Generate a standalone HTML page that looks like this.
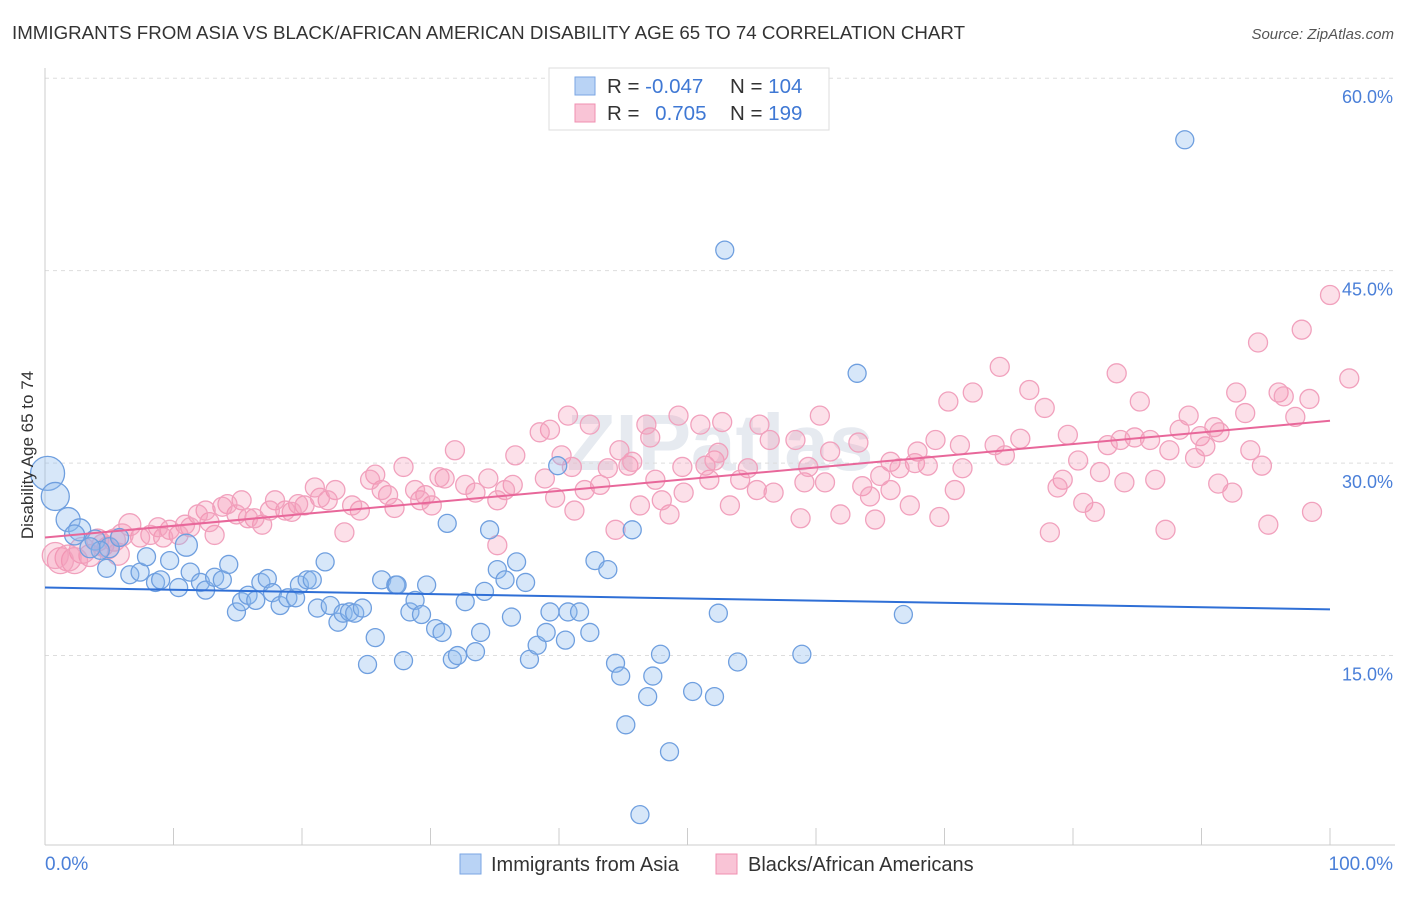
<!DOCTYPE html>
<html><head><meta charset="utf-8">
<style>
body{margin:0;background:#fff;font-family:"Liberation Sans",sans-serif;}
svg text{font-family:"Liberation Sans",sans-serif;}
</style></head>
<body>
<svg id="chart" width="1406" height="892" viewBox="0 0 1406 892" xmlns="http://www.w3.org/2000/svg">
<text x="12" y="39" font-size="18" fill="#333" textLength="953" lengthAdjust="spacingAndGlyphs">IMMIGRANTS FROM ASIA VS BLACK/AFRICAN AMERICAN DISABILITY AGE 65 TO 74 CORRELATION CHART</text>
<text x="1394" y="39" font-size="15" fill="#555" font-style="italic" text-anchor="end">Source: ZipAtlas.com</text>
<text x="720" y="470" font-size="80" fill="#e6eaf0" text-anchor="middle" font-weight="bold">ZIPatlas</text>
<g id="grid"></g>
<g id="axes"></g>
<g id="pink"></g>
<g id="blue"></g>
<g id="trends"></g>
<text x="33" y="455" font-size="17" fill="#333" text-anchor="middle" transform="rotate(-90 33 455)">Disability Age 65 to 74</text>
<g>
<rect x="549" y="68" width="280" height="62" fill="#fff" stroke="#ddd"/>
<rect x="575" y="77" width="20" height="18" fill="#b9d3f5" stroke="#7aa6e3"/>
<rect x="575" y="104" width="20" height="18" fill="#f9c4d6" stroke="#f08fb0"/>
<text x="607" y="93" font-size="20.5" fill="#333">R = <tspan fill="#3f78d4">-0.047</tspan></text>
<text x="730" y="93" font-size="20.5" fill="#333">N = <tspan fill="#3f78d4">104</tspan></text>
<text x="607" y="120" font-size="20.5" fill="#333">R = <tspan fill="#3f78d4" dx="10">0.705</tspan></text>
<text x="730" y="120" font-size="20.5" fill="#333">N = <tspan fill="#3f78d4">199</tspan></text>
</g>
<g>
<rect x="460" y="854" width="21" height="20" fill="#b9d3f5" stroke="#7aa6e3"/>
<text x="491" y="871" font-size="20" fill="#333">Immigrants from Asia</text>
<rect x="716" y="854" width="21" height="20" fill="#f9c4d6" stroke="#f08fb0"/>
<text x="748" y="871" font-size="20" fill="#333">Blacks/African Americans</text>
</g>
</svg>
<script>
const yTicks=[15,30,45,60];
const yTickLabels=["15.0%","30.0%","45.0%","60.0%"];
const xTickVals=[0,10,20,30,40,50,60,70,80,90,100];
const xEndLabels=["0.0%","100.0%"];
const blueX=[88.7,52.9,63.2,0.2,0.8,1.8,2.7,3.9,5.0,4.3,5.8,11.0,4.8,6.6,7.4,7.9,8.6,9.0,9.7,10.4,11.3,12.1,12.5,13.2,13.8,14.3,14.9,15.3,15.8,16.4,16.8,17.3,17.7,18.3,18.9,19.5,19.8,20.4,20.8,21.8,21.2,22.2,22.8,23.2,23.7,24.1,24.7,25.1,25.7,26.2,27.3,27.4,27.9,28.4,28.8,29.3,29.7,30.4,30.9,31.3,31.7,32.1,32.7,33.5,33.9,34.2,34.6,35.2,35.8,36.3,36.7,37.4,37.7,38.3,39.0,39.3,39.9,40.5,40.7,41.6,42.4,42.8,43.8,44.4,44.8,45.2,45.7,46.3,46.9,47.3,47.9,48.6,50.4,52.1,52.4,53.9,58.9,66.8,2.3,3.5];
const blueY=[55.2,46.6,37.0,29.2,27.4,25.6,24.8,24.0,23.4,23.2,24.2,23.6,21.8,21.3,21.5,22.7,20.7,20.9,22.4,20.3,21.5,20.7,20.1,21.1,20.9,22.1,18.4,19.2,19.7,19.3,20.7,21.0,19.9,18.9,19.5,19.5,20.5,20.9,20.9,22.3,18.7,18.9,17.6,18.3,18.4,18.3,18.7,14.3,16.4,20.9,20.5,20.5,14.6,18.4,19.3,18.2,20.5,17.1,16.8,25.3,14.7,15.0,19.2,15.3,16.8,20.0,24.8,21.7,20.9,18.0,22.3,20.7,14.7,15.8,16.8,18.4,29.8,16.2,18.4,18.4,16.8,22.4,21.7,14.4,13.4,9.6,24.8,2.6,11.8,13.4,15.1,7.5,12.2,11.8,18.3,14.5,15.1,18.2,24.4,23.4];
const blueR=[9,9,9,17,14,12,11,10,10,9,9,11,9,9,9,9,9,9,9,9,9,9,9,9,9,9,9,9,9,9,9,9,9,9,9,9,9,9,9,9,9,9,9,9,9,9,9,9,9,9,9,9,9,9,9,9,9,9,9,9,9,9,9,9,9,9,9,9,9,9,9,9,9,9,9,9,9,9,9,9,9,9,9,9,9,9,9,9,9,9,9,9,9,9,9,9,9,9,10,10];
const pinkX=[100,97.8,94.4,83.4,74.3,76.6,72.2,70.3,96.0,96.4,101.5,92.7,85.2,77.8,93.4,97.3,89.0,98.4,88.3,91.0,91.4,86.0,84.8,83.7,82.7,79.6,75.9,73.9,71.2,69.3,89.9,90.3,93.8,87.5,89.5,80.4,74.7,67.9,67.7,68.7,94.7,82.1,71.4,65.8,66.5,65.0,79.2,84.0,86.4,91.3,92.4,78.8,70.8,65.8,63.6,64.2,80.8,81.7,98.6,95.2,87.2,78.2,69.6,67.3,64.6,61.9,58.8,56.7,55.4,54.7,54.1,59.1,60.7,61.1,63.3,59.4,58.4,56.4,55.6,60.3,51.7,51.4,52.1,52.4,49.6,49.7,48.6,48.0,47.5,46.3,47.1,46.8,49.3,51.0,52.7,53.3,45.4,45.7,44.7,44.4,43.8,43.2,42.4,40.7,40.2,39.3,38.5,38.9,39.7,41.0,41.2,42.0,36.4,36.6,35.8,35.2,35.2,34.5,33.5,32.7,31.9,31.1,30.7,30.1,29.6,29.2,28.8,27.9,27.2,26.7,26.2,25.7,25.3,24.5,23.9,23.3,22.6,22.0,21.4,21.0,20.2,19.7,19.2,18.7,17.9,17.5,16.9,16.3,15.8,15.3,14.9,14.2,13.8,13.2,12.8,12.5,11.9,11.3,10.9,10.4,9.7,9.2,8.8,8.2,7.4,6.6,6.0,5.4,4.9,4.1,3.5,2.9,2.3,1.8,1.2,0.8,4.5,5.7];
const pinkY=[43.1,40.4,39.4,37.0,37.5,35.7,35.5,34.8,35.5,35.2,36.6,35.5,34.8,34.3,33.9,33.6,33.7,35.0,32.6,32.8,32.4,31.8,32.0,31.8,31.4,32.2,31.9,31.4,31.4,31.8,32.1,31.3,31.0,31.0,30.4,30.2,30.6,30.9,30.0,29.8,29.8,29.3,29.6,30.1,29.6,29.0,28.7,28.5,28.7,28.4,27.7,28.1,27.9,27.9,28.2,27.4,26.9,26.2,26.2,25.2,24.8,24.6,25.8,26.7,25.6,26.0,25.7,27.7,27.9,29.6,28.7,28.5,28.5,30.9,31.6,29.7,31.8,31.8,33.0,33.7,28.7,29.8,30.2,30.8,29.7,27.7,26.0,27.1,28.7,26.7,32.0,33.0,33.7,33.0,33.2,26.7,29.8,30.1,31.0,24.8,29.6,28.3,33.0,33.7,30.6,32.6,32.4,28.8,27.3,29.7,26.3,27.9,28.3,30.6,27.9,27.1,23.6,28.8,27.7,28.3,31.0,28.8,28.9,26.7,27.5,27.1,27.9,29.7,26.5,27.5,27.9,29.1,28.7,26.3,26.7,24.6,27.9,27.1,27.3,28.1,26.7,26.8,26.2,26.3,27.1,26.3,25.2,25.7,25.7,27.1,26.0,26.8,26.6,24.4,25.4,26.3,26.0,25.0,25.2,24.4,24.8,24.2,25.0,24.4,24.2,25.2,24.4,24.0,23.4,24.0,22.8,23.2,22.4,22.6,22.4,22.8,23.6,22.9];
const blueTrend=[20.3,18.6];
const pinkTrend=[24.2,33.3];
const NS="http://www.w3.org/2000/svg";
const X0=45,X1=1330,YB=848,PX_PER=12.83;
function sx(v){return X0+(X1-X0)*v/100;}
function sy(v){return YB-v*PX_PER;}
function mk(tag,attrs,parent){const e=document.createElementNS(NS,tag);for(const k in attrs)e.setAttribute(k,attrs[k]);parent.appendChild(e);return e;}
const grid=document.getElementById('grid'),axes=document.getElementById('axes');
yTicks.forEach((t,i)=>{
 const l=mk('line',{x1:45,x2:1395,y1:sy(t),y2:sy(t),stroke:'#ddd','stroke-dasharray':'4,4'},grid);
 
 
 const tx=mk('text',{x:1393,y:sy(t)+25,'font-size':18,fill:'#4a7fd8','text-anchor':'end'},axes);
 tx.textContent=yTickLabels[i];
 
 
});
const ya=mk('line',{x1:45,x2:45,y1:68,y2:845,stroke:'#ccc'},axes);


const xa=mk('line',{x1:45,x2:1395,y1:845,y2:845,stroke:'#ccc'},axes);


xTickVals.forEach(v=>{
 const t=mk('line',{x1:sx(v),x2:sx(v),y1:828,y2:845,stroke:'#ccc'},axes);
 
 
});
[[0,'start',45],[100,'end',1393]].forEach((d,i)=>{
 const t=mk('text',{x:d[2],y:870,'font-size':19,fill:'#4a7fd8','text-anchor':d[1]},axes);
 t.textContent=xEndLabels[i];
 
 
});
const pg=document.getElementById('pink');
pinkX.forEach((x,i)=>{
 const r=x<3?13:(x<7?11:9.5);
 const c=mk('circle',{cx:sx(x),cy:sy(pinkY[i]),r:r,fill:'rgba(244,143,177,0.28)',stroke:'#f1a1bd','stroke-width':1.3},pg);
 
 
});
const bg=document.getElementById('blue');
blueX.forEach((x,i)=>{
 const c=mk('circle',{cx:sx(x),cy:sy(blueY[i]),r:blueR[i],fill:'rgba(140,185,238,0.35)',stroke:'#6f9fdf','stroke-width':1.3},bg);
 
 
});
const tg=document.getElementById('trends');
const bl=mk('line',{x1:sx(0),y1:sy(blueTrend[0]),x2:sx(100),y2:sy(blueTrend[1]),stroke:'#2f6fd6','stroke-width':2},tg);


const pl=mk('line',{x1:sx(0),y1:sy(pinkTrend[0]),x2:sx(100),y2:sy(pinkTrend[1]),stroke:'#e8679a','stroke-width':2},tg);


</script>
</body></html>
